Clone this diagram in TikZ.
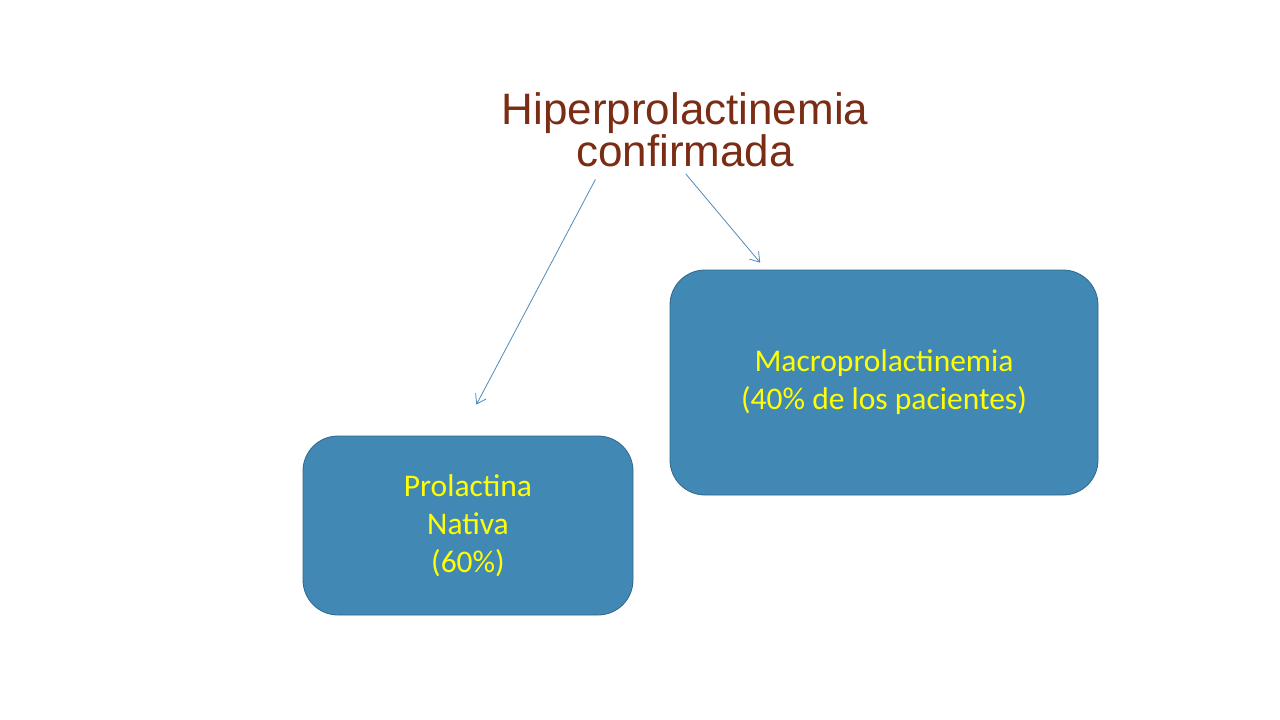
\documentclass[tikz,border=0pt]{standalone}
\usepackage{fontspec}
\setmainfont{Liberation Sans}
\newfontfamily\boxfont{Carlito}
\usetikzlibrary{positioning}

\definecolor{titleBrown}{RGB}{122,44,20}
\definecolor{boxBlue}{RGB}{65,137,180}
\definecolor{boxEdge}{RGB}{48,102,140}
\definecolor{linkBlue}{RGB}{80,138,184}
\definecolor{textYellow}{RGB}{255,255,0}

\tikzset{
    resultBox/.style={draw=boxEdge, line width=0.8pt, fill=boxBlue, rounded corners=35pt,
        text=textYellow, align=center, font=\boxfont\fontsize{31.5}{38}\selectfont},
    link/.style={draw=linkBlue, line width=0.8pt, ->, >={Straight Barb[length=9pt,width=12pt]}}
}
\usetikzlibrary{arrows.meta}

\begin{document}
\begin{tikzpicture}[x=1pt, y=-1pt]
                \useasboundingbox (0,0) rectangle (1280,720);
                \node[anchor=south, inner sep=0, align=center, text=titleBrown,
                    font=\fontsize{44}{39}\selectfont] (title) at (685,167) {Hiperprolactinemia\\confirmada};
                \node[resultBox, minimum width=330pt, minimum height=179pt] (nativa) at (468,525.5) {Prolactina\\Nativa\\(60\%)};
                \node[resultBox, minimum width=428pt, minimum height=225pt] (macro) at (884,382.5) {Macroprolactinemia\\(40\% de los pacientes)};
                \draw[link, shorten <=14pt, shorten >=35pt] ([xshift=-83pt]title.south) -- ([xshift=-8pt]nativa.north);
                \draw[link, shorten <=9pt, shorten >=9pt] ([xshift=-5pt]title.south) -- ([xshift=-118pt]macro.north);
            \end{tikzpicture}
\end{document}
